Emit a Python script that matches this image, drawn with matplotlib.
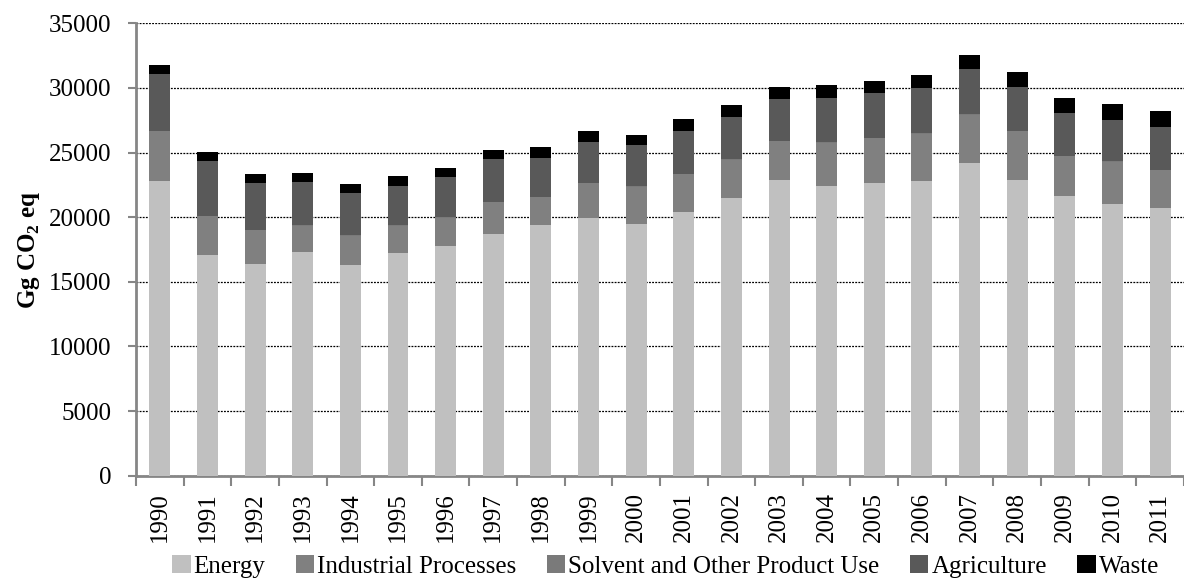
import numpy as np
import matplotlib
matplotlib.use('Agg')
import matplotlib.pyplot as plt

plt.rcParams['font.family'] = ['Liberation Serif', 'DejaVu Serif']
plt.rcParams['mathtext.fontset'] = 'custom'
plt.rcParams['mathtext.rm'] = 'Liberation Serif'
plt.rcParams['mathtext.bf'] = 'Liberation Serif:bold'

years = [str(y) for y in range(1990, 2012)]
# values (Gg CO2 eq)
energy = [22790, 17070, 16350, 17300, 16290, 17220, 17790, 18720, 19370, 19930, 19470,
          20390, 21480, 22870, 22390, 22640, 22820, 24160, 22850, 21630, 20990, 20680]
industrial = [3860, 3000, 2640, 2030, 2280, 2110, 2180, 2430, 2170, 2690, 2900,
              2930, 2950, 3010, 3380, 3470, 3630, 3780, 3800, 3080, 3310, 2950]
solvent = [40, 40, 40, 40, 40, 40, 40, 40, 40, 40, 40,
           40, 40, 40, 40, 40, 40, 40, 40, 40, 40, 40]
agriculture = [4360, 4210, 3610, 3320, 3230, 3060, 3070, 3280, 3020, 3180, 3150,
               3330, 3300, 3200, 3410, 3450, 3480, 3460, 3400, 3330, 3200, 3300]
waste = [700, 690, 700, 700, 750, 730, 720, 720, 800, 820, 790,
         880, 880, 930, 980, 930, 1000, 1080, 1140, 1160, 1190, 1240]

names = ['Energy', 'Industrial Processes', 'Solvent and Other Product Use', 'Agriculture', 'Waste']
colors = ['#c0c0c0', '#808080', '#7a7a7a', '#595959', '#000000']
series = [energy, industrial, solvent, agriculture, waste]

fig = plt.figure(figsize=(11.84, 5.83), dpi=100)
ax = fig.add_axes([0.1149, 0.184, 0.885, 0.776])

x = np.arange(len(years))
bottom = np.zeros(len(years))
for name, vals, c in zip(names, series, colors):
    ax.bar(x, vals, 0.44, bottom=bottom, color=c, label=name, zorder=3)
    bottom += np.array(vals)

ax.set_xlim(-0.5, len(years) - 0.5)
ax.set_ylim(0, 35000)
ax.set_yticks(np.arange(0, 35001, 5000))
ax.yaxis.grid(True, color='black', linestyle=(0, (1.5, 1)), linewidth=0.9, zorder=0)
ax.set_axisbelow(True)

ax.set_xticks(x)
ax.set_xticklabels(years, rotation=90, fontsize=18)
ax.set_xticks(np.arange(-0.5, len(years)), minor=True)
ax.tick_params(axis='x', which='major', length=0, pad=12)
ax.tick_params(axis='x', which='minor', length=7, color='#868686', width=1.5)
ax.tick_params(axis='y', labelsize=18, length=6, color='#868686', width=1.5, pad=12)

for s in ['top', 'right']:
    ax.spines[s].set_visible(False)
for s in ['left', 'bottom']:
    ax.spines[s].set_color('#868686')
    ax.spines[s].set_linewidth(2)

ax.set_ylabel('Gg CO$_\\mathbf{2}$ eq', fontsize=18, fontweight='bold', labelpad=5)

fig.legend(loc='lower center', bbox_to_anchor=(0.562, -0.03), ncol=5, frameon=False,
           fontsize=18, handlelength=0.75, handleheight=0.75, handletextpad=0.12,
           columnspacing=1.2)

fig.savefig('out.png', dpi=100)
